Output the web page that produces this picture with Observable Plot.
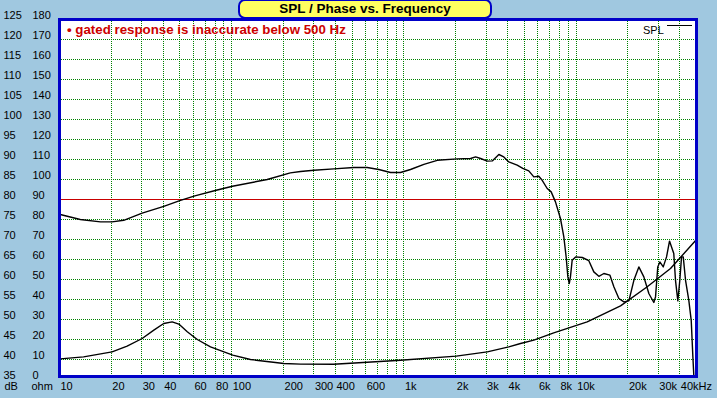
<!DOCTYPE html>
<html>
<head>
<meta charset="utf-8">
<script src="https://cdn.jsdelivr.net/npm/d3@7"></script>
<script src="https://cdn.jsdelivr.net/npm/@observablehq/plot@0.6"></script>
<style>
  html, body { margin: 0; padding: 0; background: #a0c8e0; }
  #wrap { position: relative; width: 717px; height: 398px; overflow: hidden; font-family: "Liberation Sans", Arial, sans-serif; }
  #title { position: absolute; left: 238px; top: -1px; width: 254px; height: 20px; box-sizing: border-box;
           background: #ffff60; border: 2px solid #0000c8; border-radius: 7px; text-align: center;
           font-weight: bold; font-size: 13.5px; line-height: 16px; color: #000; }
  #note { position: absolute; left: 67px; top: 23px; font-weight: bold; font-size: 13.3px; line-height: 13.3px; color: #cc0000; white-space: nowrap; }
  #legend { position: absolute; left: 643px; top: 25px; font-size: 11px; line-height: 11px; color: #000; }
  #legline { position: absolute; left: 667px; top: 25px; width: 25px; height: 1px; background: #000; }
</style>
</head>
<body>
<div id="wrap">
  <div id="chart"></div>
  <div id="title">SPL / Phase vs. Frequency</div>
  <div id="note">• gated response is inaccurate below 500 Hz</div>
  <div id="legend">SPL</div>
  <div id="legline"></div>
</div>
<script>
// SPL curve (Hz, dB)
const splFreq = [10.1, 13.2, 17.3, 20.2, 23.6, 30.2, 40.3, 50.4, 61.1, 81.3, 101, 160.7, 219, 251, 300, 392, 512, 612, 715, 836, 955, 1092, 1306, 1561, 2041, 2438, 2607, 2788, 3048, 3259, 3558, 3803, 4064, 4546, 4900, 5309, 5680, 6071, 6353, 6792, 7163, 7586, 8110, 8483, 8750, 8954, 9120, 9268, 9484, 9931, 10850, 11850, 12670, 13550, 14490, 15700, 16560, 17710, 18930, 20240, 21640, 23130, 24730, 26440, 28260, 28910, 29790, 30620, 32060, 33500, 34850, 36900, 37760, 38960, 40000, 40930, 41880, 43190, 45120, 46590, 47640, 48240];
const splDB = [76.25, 75.0, 74.4, 74.4, 74.8, 76.6, 78.3, 79.8, 80.9, 82.3, 83.3, 85.0, 86.65, 87.0, 87.3, 87.65, 88.0, 88.0, 87.5, 86.75, 86.75, 87.5, 88.8, 89.8, 90.15, 90.25, 90.65, 90.25, 89.6, 89.65, 91.25, 90.65, 89.4, 88.6, 87.8, 87.15, 85.65, 85.8, 84.8, 82.75, 81.9, 79.4, 75.25, 70.65, 65.65, 60.65, 59.0, 60.65, 64.8, 65.65, 65.5, 64.7, 61.9, 60.8, 61.5, 61.1, 58.2, 55.25, 54.4, 54.65, 59.8, 63.15, 60.65, 56.5, 54.25, 55.65, 63.15, 64.4, 63.15, 65.65, 69.6, 66.5, 59.8, 54.65, 59.8, 65.65, 65.65, 59.8, 54.8, 49.8, 40.65, 36.0];

// Impedance curve (Hz, ohm)
const zFreq = [10.1, 13.8, 20.2, 24.7, 30.2, 35.3, 40.3, 45.1, 49.3, 55.2, 63.1, 75.3, 101.4, 128.5, 200.9, 251, 390, 612, 955, 2013, 3048, 4064, 4755, 5680, 7413, 11590, 18110, 25880, 35320, 50000];
const zOhm = [10.3, 11.3, 13.8, 16.7, 20.5, 24.7, 28.0, 28.8, 27.7, 23.9, 20.0, 16.3, 12.2, 10.0, 8.0, 7.7, 7.65, 8.6, 9.65, 11.7, 13.8, 16.3, 18.0, 19.7, 23.3, 28.8, 36.8, 46.4, 55.5, 70.0];

// Axis ticks and labels
const dBTicks = [35, 40, 45, 50, 55, 60, 65, 70, 75, 80, 85, 90, 95, 100, 105, 110, 115, 120, 125];
const ohmTicks = [0, 10, 20, 30, 40, 50, 60, 70, 80, 90, 100, 110, 120, 130, 140, 150, 160, 170, 180];
const xTickValues = [10, 20, 30, 40, 60, 80, 100, 200, 300, 400, 600, 1000, 2000, 3000, 4000, 6000, 8000, 10000, 20000, 30000, 40000];
const xTickLabels = ["10", "20", "30", "40", "60", "80", "100", "200", "300", "400", "600", "1k", "2k", "3k", "4k", "6k", "8k", "10k", "20k", "30k", "40kHz"];
const gridFreqs = [20, 30, 40, 50, 60, 70, 80, 90, 100, 200, 300, 400, 500, 600, 700, 800, 900, 1000, 2000, 3000, 4000, 5000, 6000, 7000, 8000, 9000, 10000, 20000, 30000, 40000];
const gridDB = [40, 45, 50, 55, 60, 65, 70, 75, 85, 90, 95, 100, 105, 110, 115, 120];
const refDB = [80];

const ohmToDB = o => 35 + o / 2;
const spl = splFreq.map((f, i) => ({f, v: splDB[i]}));
const imp = zFreq.map((f, i) => ({f, v: ohmToDB(zOhm[i])}));
const xLab = xTickValues.map((f, i) => ({f, t: xTickLabels[i]}));

const chart = Plot.plot({
  width: 717,
  height: 398,
  marginLeft: 59,
  marginRight: 21,
  marginTop: 19,
  marginBottom: 22,
  style: {background: "#a0c8e0", fontFamily: "'Liberation Sans', Arial, sans-serif", fontSize: "11px", color: "#000"},
  x: {type: "log", domain: [10, 50000], axis: null},
  y: {domain: [35.75, 125], axis: null},
  marks: [
    Plot.frame({fill: "white"}),
    Plot.ruleX(gridFreqs, {x: d => d, stroke: "#008000", strokeDasharray: "1,1", strokeWidth: 1, shapeRendering: "crispEdges"}),
    Plot.ruleY(gridDB, {y: d => d, stroke: "#008000", strokeDasharray: "1,1", strokeWidth: 1, shapeRendering: "crispEdges"}),
    Plot.ruleY(refDB, {y: d => d, stroke: "#c80000", strokeWidth: 1, shapeRendering: "crispEdges"}),
    Plot.line(imp, {x: "f", y: "v", stroke: "#000", strokeWidth: 1.4}),
    Plot.line(spl, {x: "f", y: "v", stroke: "#000", strokeWidth: 1.4}),
    Plot.frame({stroke: "#0000c8", strokeWidth: 3}),
    Plot.text(dBTicks, {y: d => d, text: d => String(d), frameAnchor: "left", dx: -56, dy: -4, textAnchor: "start", fontSize: 11, fill: "#000"}),
    Plot.text(ohmTicks, {y: d => ohmToDB(d), text: d => String(d), frameAnchor: "left", dx: -27, dy: -4, textAnchor: "start", fontSize: 11, fill: "#000"}),
    Plot.text(xLab, {x: "f", text: "t", frameAnchor: "bottom", dy: 13, dx: 1, textAnchor: "start", fontSize: 11, fill: "#000"}),
    Plot.text(["dB"], {text: d => d, frameAnchor: "bottom-left", dx: -55, dy: 13, textAnchor: "start", fontSize: 11, fill: "#000"}),
    Plot.text(["ohm"], {text: d => d, frameAnchor: "bottom-left", dx: -28, dy: 13, textAnchor: "start", fontSize: 11, fill: "#000"})
  ]
});
document.getElementById("chart").appendChild(chart);
</script>
</body>
</html>
